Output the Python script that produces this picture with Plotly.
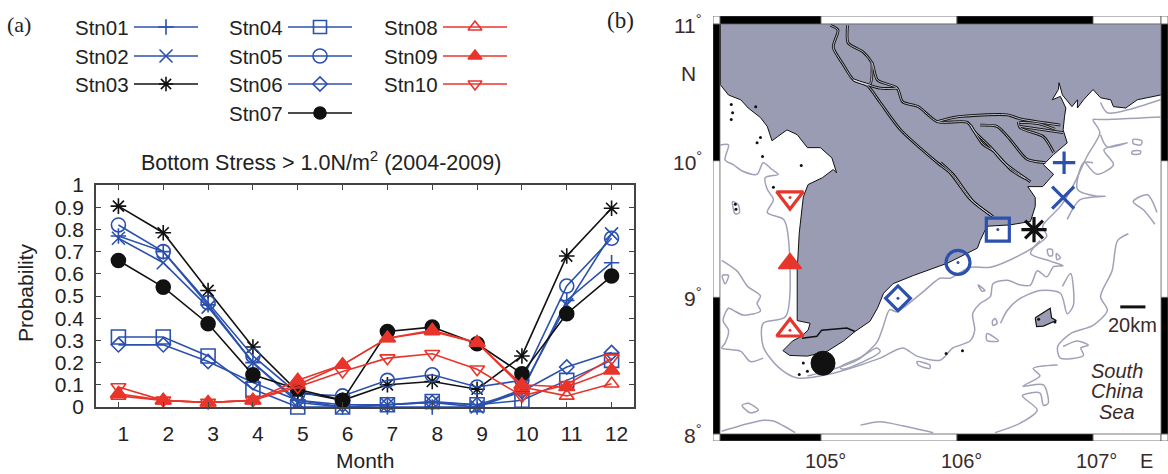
import plotly.graph_objects as go

W, H = 1168, 474
months = list(range(1, 13))
stations = ["Stn01","Stn02","Stn03","Stn04","Stn05","Stn06","Stn07","Stn08","Stn09","Stn10"]
stn01 = [.77,.70,.46,.20,.03,.00,.00,.00,.00,.07,.48,.65]
stn02 = [.76,.65,.45,.20,.02,.00,.01,.02,.00,.08,.46,.78]
stn03 = [.905,.785,.525,.27,.07,.03,.10,.115,.08,.23,.68,.895]
stn04 = [.315,.315,.23,.08,.00,.00,.01,.025,.01,.03,.12,.21]
stn05 = [.82,.70,.47,.23,.06,.05,.12,.145,.09,.12,.545,.76]
stn06 = [.28,.28,.205,.11,.03,.01,.01,.02,.01,.07,.18,.245]
stn07 = [.66,.54,.375,.145,.08,.03,.34,.36,.285,.15,.42,.59]
stn08 = [.05,.03,.02,.03,.10,.19,.31,.34,.29,.09,.05,.105]
stn09 = [.06,.03,.02,.03,.12,.19,.31,.345,.29,.10,.09,.165]
stn10 = [.09,.03,.02,.03,.09,.16,.22,.24,.17,.05,.10,.22]
series = [stn01,stn02,stn03,stn04,stn05,stn06,stn07,stn08,stn09,stn10]

stn_lon = [106.787,106.78,106.566,106.30,106.007,105.566,105.015,104.772,104.772,104.772]
stn_lat = [9.985,9.73,9.496,9.496,9.255,8.993,8.518,8.759,9.248,9.73]

land_lon = [104.26,104.26,104.32,104.41,104.465,104.555,104.605,104.64,104.68,104.75,104.825,104.90,104.995,105.08,105.115,105.09,105.01,104.905,104.87,104.85,104.84,104.825,104.825,104.92,104.905,104.855,104.79,104.72,104.77,104.90,105.045,105.165,105.25,105.36,105.415,105.46,105.53,105.68,105.93,106.15,106.17,106.22,106.39,106.54,106.575,106.575,106.52,106.63,106.71,106.635,106.71,106.81,106.78,106.79,106.80,106.76,106.70,106.745,106.75,106.775,106.845,106.885,106.885,106.93,107.00,107.055,107.13,107.15,107.24,107.325,107.495,107.55,107.55]
land_lat = [11.00,10.555,10.48,10.445,10.385,10.315,10.25,10.145,10.175,10.225,10.19,10.095,10.095,10.02,9.91,9.935,9.875,9.825,9.735,9.52,9.47,9.20,8.83,8.81,8.76,8.715,8.68,8.61,8.575,8.57,8.605,8.68,8.75,8.825,8.92,9.03,9.10,9.16,9.25,9.36,9.415,9.52,9.53,9.555,9.665,9.73,9.81,9.81,9.90,9.97,10.045,10.13,10.225,10.32,10.385,10.47,10.445,10.52,10.57,10.48,10.395,10.445,10.385,10.445,10.52,10.46,10.445,10.395,10.385,10.445,10.48,10.50,11.00]

rivers = [
 ([105.07,105.125,105.09,105.165,105.24,105.34,105.435,105.585,105.855,105.95,106.10,106.265],[10.99,10.955,10.83,10.70,10.59,10.55,10.425,10.225,9.985,9.91,9.715,9.59]),
 ([105.195,105.20,105.31,105.375,105.415,105.56,105.60,105.715,105.855,106.075,106.13,106.245,106.34,106.54],[10.99,10.86,10.795,10.715,10.59,10.53,10.43,10.395,10.285,10.28,10.21,10.10,9.99,9.845]),
 ([105.855,106.00,106.37,106.465,106.76],[10.285,10.32,10.335,10.305,10.26]),
 ([106.17,106.295,106.39,106.515,106.65],[10.26,10.25,10.155,10.01,9.985]),
 ([106.45,106.465,106.635,106.71],[10.285,10.24,10.175,10.06]),
 ([106.465,106.78],[10.25,10.205]),
 ([105.375,105.36,105.24,105.435,105.56],[10.715,10.56,10.59,10.53,10.53]),
 ([105.88,105.97,106.12,106.25],[9.985,9.90,9.70,9.60]),
 ([106.10,106.19,106.27,106.40,106.50],[10.26,10.12,10.07,9.93,9.87]),
 ([106.46,106.60,106.72],[10.28,10.27,10.23]),
]
south_river_lon = [104.86,104.97,105.005,105.19,105.25]
south_river_lat = [8.70,8.715,8.76,8.775,8.75]

contours = [
 ([104.26,104.32,104.295,104.355,104.43,104.53,104.575,104.64,104.685,104.59,104.605,104.65,104.605,104.725,104.755,104.74,104.575,104.575,104.68,104.825,105.09,105.29,105.435,105.60,105.705,105.875,105.97,106.095,106.13,106.115,106.17,106.245,106.265,106.37,106.465,106.54,106.59,106.66,106.71,106.78,106.685,106.54,106.61],
  [10.115,10.115,10.005,9.97,9.92,9.90,9.985,9.935,9.90,9.875,9.79,9.715,9.62,9.57,9.475,8.86,8.81,8.64,8.495,8.41,8.445,8.505,8.555,8.63,8.57,8.54,8.63,8.68,8.76,8.88,8.955,9.005,9.10,9.125,9.09,9.09,9.195,9.15,9.225,9.23,9.265,9.32,9.415]),
 ([104.90,105.09,105.265,105.41,105.455,105.505,105.555,105.75,105.875,105.95,106.095,106.245,106.465,106.61,106.66,106.63,106.76,106.85,106.955,107.05,107.00,107.055,107.495],
  [8.425,8.475,8.54,8.67,8.78,8.91,8.895,9.04,9.14,9.14,9.22,9.22,9.31,9.40,9.45,9.52,9.665,9.81,10.03,10.205,10.30,10.30,10.32]),
 ([105.14,105.29,105.41,105.435,105.29,105.155,105.14],[8.49,8.56,8.63,8.605,8.52,8.475,8.49]),
 ([104.27,104.385,104.46,104.555,104.53,104.555,104.43,104.355,104.32,104.28,104.32,104.295,104.27,104.41,104.48,104.575],[9.27,9.19,9.08,9.01,8.955,8.90,8.87,8.905,8.92,8.83,8.76,8.665,8.63,8.605,8.53,8.555]),
 ([104.275,104.32,104.295,104.275],[9.16,9.16,9.10,9.16]),
 ([104.42,104.465,104.54,104.48,104.42],[8.21,8.225,8.175,8.155,8.21]),
 ([104.27,104.48,104.575,104.65,104.81],[8.02,8.08,8.10,8.095,8.01]),
 ([105.29,105.435,105.60,105.825],[8.065,8.09,8.06,8.01]),
 ([106.32,106.37,106.445,106.61,106.76,106.81,106.855,106.835,106.775],[8.81,8.905,8.98,9.05,9.03,8.88,8.94,9.175,9.08]),
 ([106.26,106.28,106.295,106.265,106.26],[8.825,8.845,8.81,8.795,8.825]),
 ([106.22,106.305,106.22,106.22],[8.735,8.68,8.685,8.735]),
 ([106.155,106.205,106.185,106.155],[9.09,9.05,9.045,9.09]),
 ([105.705,105.80,105.80,105.715,105.705],[8.53,8.505,8.48,8.505,8.53]),
 ([107.26,107.18,107.14,107.055,107.105,107.00,106.835,106.74,106.76,106.93,106.91,106.965,106.885,106.78],[9.465,9.415,9.195,9.005,8.905,8.795,8.735,8.64,8.555,8.575,8.63,8.65,8.68,8.64]),
 ([107.47,107.40,107.295,107.37,107.455],[9.62,9.75,9.70,9.64,9.535]),
 ([107.00,106.93,106.885,107.03,107.09,106.905,106.81],[9.985,9.985,9.79,9.74,9.74,9.715,9.57]),
 ([106.945,107.03,107.15,107.08,107.25,107.105,107.055],[9.985,9.90,9.97,10.08,10.13,10.10,10.19]),
 ([107.295,107.36,107.35,107.295,107.295],[10.155,10.145,10.115,10.125,10.155]),
 ([107.29,107.35,107.345,107.285,107.29],[10.07,10.07,10.05,10.05,10.07]),
 ([107.055,107.105,107.25,107.495],[10.425,10.35,10.37,10.445]),
 ([106.74,106.56,106.61,106.485,106.635,106.67,106.635,106.61,106.48,106.59,106.465,106.28],[8.505,8.48,8.425,8.35,8.36,8.225,8.21,8.30,8.28,8.175,8.08,8.01]),
 ([106.665,106.70,106.70,106.675,106.665],[9.35,9.35,9.305,9.305,9.35]),
 ([106.73,106.76,106.735,106.73],[9.32,9.29,9.275,9.32]),
 ([104.35,104.39,104.40,104.37,104.35],[9.70,9.68,9.62,9.61,9.70]),
]
island_lon = [106.575,106.685,106.695,106.73,106.635,106.585,106.575]
island_lat = [8.85,8.92,8.85,8.83,8.79,8.785,8.85]
specks_lon = [104.52,104.57,104.855,104.65,104.34,104.35,104.34,104.53,104.555,104.37,104.375,104.84,104.87,104.90,106.60,106.72,105.92,106.04]
specks_lat = [10.395,10.03,9.965,9.805,10.41,10.35,10.30,10.13,10.17,9.68,9.645,8.435,8.52,8.46,8.84,8.82,8.59,8.61]

BLUE, RED, BLACK = "#2b50ae", "#e8352b", "#111111"
GREY, LAND = "#a0a1b8", "#9a9cb4"
colors = [BLUE,BLUE,BLACK,BLUE,BLUE,BLUE,BLACK,RED,RED,RED]
symbols = ["cross-thin-open","x-thin-open","asterisk-open","square-open","circle-open","diamond-open","circle","triangle-up-open","triangle-up","triangle-down-open"]
chart_sizes = [11,13,13,14,14,11,14,13,14,13]
legend_sizes = [11,13,12,13,14,11,12,12,12,12]
map_sizes = [16,22,21,23,24,19,24,23,20,23]
map_strokes = [3.2,3.2,3.2,3.2,3.2,3.2,1,3.2,1.5,3.2]
legend_col_x = [134,134,134,288,288,288,288,443,443,443]
legend_row_y = [27,56,84,27,56,84,113,27,56,84]

fig = go.Figure()
FONT = "Liberation Sans"

# panel (a)
for i, name in enumerate(stations):
    fig.add_trace(go.Scatter(x=months, y=series[i], mode="lines+markers", name=name, cliponaxis=False,
        line=dict(color=colors[i], width=1.6),
        marker=dict(symbol=symbols[i], size=chart_sizes[i], color=colors[i], line=dict(color=colors[i], width=1.6)),
        xaxis="x", yaxis="y", showlegend=False))

# panel (b)
fig.add_trace(go.Scatter(x=land_lon, y=land_lat, mode="lines", fill="toself", fillcolor=LAND,
    line=dict(color="#111111", width=1), xaxis="x2", yaxis="y2", showlegend=False))
for lon, lat in rivers:
    fig.add_trace(go.Scatter(x=lon, y=lat, mode="lines", line=dict(color="#111111", width=2.8, shape="spline", smoothing=0.7),
        xaxis="x2", yaxis="y2", showlegend=False))
for lon, lat in rivers:
    fig.add_trace(go.Scatter(x=lon, y=lat, mode="lines", line=dict(color="#e6e6ee", width=0.8, shape="spline", smoothing=0.7),
        xaxis="x2", yaxis="y2", showlegend=False))
fig.add_trace(go.Scatter(x=south_river_lon, y=south_river_lat, mode="lines", line=dict(color="#111111", width=1.5),
    xaxis="x2", yaxis="y2", showlegend=False))
for lon, lat in contours:
    fig.add_trace(go.Scatter(x=lon, y=lat, mode="lines", line=dict(color=GREY, width=1.5, shape="spline", smoothing=0.8),
        xaxis="x2", yaxis="y2", showlegend=False))
fig.add_trace(go.Scatter(x=island_lon, y=island_lat, mode="lines", fill="toself", fillcolor=LAND,
    line=dict(color="#111111", width=1.2), xaxis="x2", yaxis="y2", showlegend=False))
fig.add_trace(go.Scatter(x=specks_lon, y=specks_lat, mode="markers", marker=dict(color="#111111", size=3),
    xaxis="x2", yaxis="y2", showlegend=False))
for i in range(10):
    fig.add_trace(go.Scatter(x=[stn_lon[i]], y=[stn_lat[i]], mode="markers",
        marker=dict(symbol=symbols[i], size=map_sizes[i], color=colors[i], line=dict(color=colors[i], width=map_strokes[i])),
        xaxis="x2", yaxis="y2", showlegend=False))
    if i in (3,4,5,7,9):
        fig.add_trace(go.Scatter(x=[stn_lon[i]], y=[stn_lat[i]], mode="markers",
            marker=dict(size=3, color=colors[i]), xaxis="x2", yaxis="y2", showlegend=False))
fig.add_trace(go.Scatter(x=[107.2,107.385], y=[8.93,8.93], mode="lines",
    line=dict(color="#111111", width=3), xaxis="x2", yaxis="y2", showlegend=False))

# legend samples on a full-page overlay scale
annotations = []
for i, name in enumerate(stations):
    x0, y0 = legend_col_x[i], legend_row_y[i]
    fig.add_trace(go.Scatter(x=[x0, x0+32, x0+64], y=[y0,y0,y0], mode="lines", line=dict(color=colors[i], width=1.6),
        xaxis="x3", yaxis="y3", showlegend=False))
    fig.add_trace(go.Scatter(x=[x0+32], y=[y0], mode="markers",
        marker=dict(symbol=symbols[i], size=legend_sizes[i], color=colors[i], line=dict(color=colors[i], width=1.6)),
        xaxis="x3", yaxis="y3", showlegend=False))
    annotations.append(dict(x=x0-3, y=y0, xref="x3", yref="y3", text=name, showarrow=False, xanchor="right",
        font=dict(family=FONT, size=20.5, color="#222222")))

def page_text(x, y, text, size=20, anchor="center", family=FONT, color="#222222", angle=0, yanchor="middle"):
    annotations.append(dict(x=x, y=y, xref="x3", yref="y3", text=text, showarrow=False, xanchor=anchor,
        yanchor=yanchor, textangle=angle, font=dict(family=family, size=size, color=color)))

page_text(5, 24, "(a)", 22, "left", "Liberation Serif")
page_text(605, 20, "(b)", 23, "left", "Liberation Serif")
page_text(321, 161, "Bottom Stress > 1.0N/m<sup>2</sup> (2004-2009)", 21.5)
page_text(25, 293, "Probability", 21, angle=-90)
page_text(365, 460, "Month", 21)
BROWN = "#3a2a2a"
deg = "<sup>°</sup>"
for txt, y in [("11",24),("10",161),("9",297),("8",434)]:
    page_text(704, y, txt + deg, 21, "right", color=BROWN)
page_text(688, 73, "N", 21, color=BROWN)
for txt, x in [("105",822),("106",958),("107",1093)]:
    page_text(x+3, 474, txt + "°", 20, color=BROWN, yanchor="bottom")
page_text(1146, 474, "E", 20, color=BROWN, yanchor="bottom")
page_text(1132, 325, "20km", 20, color=BROWN)
for txt, y in [("<i>South</i>",371),("<i>China</i>",391),("<i>Sea</i>",412)]:
    page_text(1117, y, txt, 20, color=BROWN)

# checker frame of the map
shapes = []
def bar(x0, x1, y0, y1, black):
    shapes.append(dict(type="rect", xref="x2", yref="y2", x0=x0, x1=x1, y0=y0, y1=y1,
        fillcolor="#000000" if black else "#ffffff", line=dict(color="#555555", width=0.8)))
LON0, LON1, LAT0, LAT1 = 104.206, 107.551, 7.949, 11.058
IN_W, IN_E = 104.257, 107.50
lon_edges = [IN_W,105,106,107,IN_E]
lat_edges = [8,9,10,11]
for k in range(4):
    blk = k in (0,2)
    bar(lon_edges[k], lon_edges[k+1], 11, LAT1, blk)
    bar(lon_edges[k], lon_edges[k+1], LAT0, 8, blk)
for k in range(3):
    blk = k != 1
    bar(LON0, IN_W, lat_edges[k], lat_edges[k+1], blk)
    bar(IN_E, LON1, lat_edges[k], lat_edges[k+1], blk)
for cx0, cx1 in [(LON0,IN_W),(IN_E,LON1)]:
    bar(cx0, cx1, 11, LAT1, False)
    bar(cx0, cx1, LAT0, 8, False)

axis_line = dict(showline=True, linecolor="#444444", linewidth=1.5, mirror="ticks", ticks="inside", ticklen=5,
    tickcolor="#444444", tickwidth=1, showgrid=False, zeroline=False, automargin=False,
    tickfont=dict(family=FONT, size=21, color="#222222"))
fig.update_layout(
    width=W, height=H, margin=dict(l=0, r=0, t=0, b=0, pad=0, autoexpand=False), paper_bgcolor="white", plot_bgcolor="rgba(0,0,0,0)",
    xaxis=dict(domain=[96/W, 634/W], range=[0.5, 12.5], tickvals=months, ticktext=[str(m) for m in months],
        ticklabelshift=5, ticklabelstandoff=7, anchor="y", **axis_line),
    yaxis=dict(domain=[1-407/H, 1-185/H], range=[0, 1], tickvals=[i/10 for i in range(11)],
        ticktext=["0","0.1","0.2","0.3","0.4","0.5","0.6","0.7","0.8","0.9","1"], ticklabelstandoff=6, anchor="x", **axis_line),
    xaxis2=dict(domain=[713/W, 1168/W], range=[LON0, LON1], visible=False, anchor="y2", automargin=False),
    yaxis2=dict(domain=[1-441/H, 1-16/H], range=[LAT0, LAT1], visible=False, anchor="x2", automargin=False),
    xaxis3=dict(domain=[0,1], range=[0,W], visible=False, anchor="y3", fixedrange=True, automargin=False),
    yaxis3=dict(domain=[0,1], range=[H,0], visible=False, anchor="x3", fixedrange=True, automargin=False),
    annotations=annotations, shapes=shapes,
)
fig.write_html("out.html", config={"displayModeBar": False},
    post_script="document.body.style.margin='0';document.documentElement.style.overflow='hidden';")
